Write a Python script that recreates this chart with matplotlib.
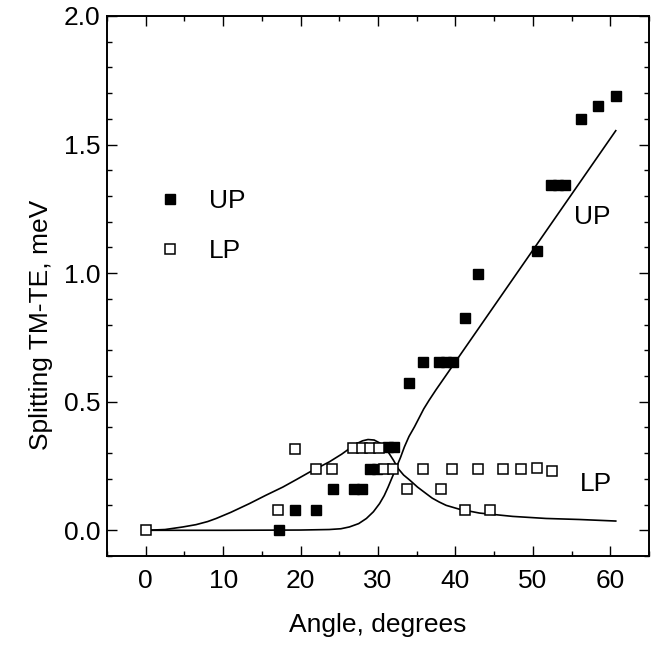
import matplotlib
matplotlib.use("Agg")
import matplotlib.pyplot as plt
from matplotlib.ticker import MultipleLocator

plt.rcParams["font.family"] = ["Liberation Sans Narrow", "Liberation Sans", "DejaVu Sans"]

# -------------------------
# Data
# -------------------------

# UP polariton (filled squares)
up_angle = [17.2, 19.3, 22.0, 24.2, 26.9, 27.9, 29.0, 29.9, 31.3, 32.1,
            34.0, 35.8, 37.9, 38.8, 39.7, 41.2, 42.9, 50.5,
            52.3, 53.2, 54.1, 56.2, 58.4, 60.7]
up_split = [0.0, 0.078, 0.078, 0.16, 0.16, 0.16, 0.24, 0.24, 0.324, 0.324,
            0.573, 0.655, 0.655, 0.655, 0.655, 0.826, 0.996, 1.087,
            1.342, 1.342, 1.342, 1.60, 1.651, 1.69]

# LP polariton (open squares)
lp_angle = [0.0, 17.1, 19.3, 22.0, 24.1, 26.8, 27.9, 29.0, 30.1, 30.8, 31.9,
            33.8, 35.8, 38.1, 39.5, 41.2, 42.9, 44.5, 46.1, 48.4, 50.5, 52.5]
lp_split = [0.0, 0.078, 0.315, 0.237, 0.24, 0.32, 0.32, 0.32, 0.32, 0.24, 0.24,
            0.16, 0.24, 0.16, 0.24, 0.08, 0.24, 0.08, 0.24, 0.24, 0.242, 0.23]

# calculated curves
up_curve_angle = [0, 10, 20, 23.7, 25.2, 26.3, 27.5, 28.5, 29.4, 30.2, 30.8,
                  31.3, 31.8, 32.3, 32.9, 33.4, 34.0, 34.7, 35.3, 35.9, 36.6,
                  37.5, 60.7]
up_curve_split = [0, 0, 0.001, 0.003, 0.006, 0.013, 0.026, 0.046, 0.072, 0.104, 0.135,
                  0.168, 0.204, 0.24, 0.283, 0.324, 0.365, 0.402, 0.437, 0.472, 0.506,
                  0.547, 1.554]

lp_curve_angle = [0, 2.5, 4.8, 6.5, 8.0, 9.1, 11.0, 13.4, 15.5, 17.7, 19.5,
                  21.2, 23.7, 25.3, 26.5, 27.3, 28.0, 28.7, 29.5, 30.2, 30.8,
                  31.3, 32.0, 32.6, 33.3, 34.1, 35.1, 36.2, 37.0, 37.9, 38.8,
                  40.5, 43.1, 47.4, 51.7, 56.0, 60.7]
lp_curve_split = [0, 0.003, 0.013, 0.022, 0.034, 0.046, 0.07, 0.104, 0.136, 0.168, 0.198,
                  0.227, 0.266, 0.296, 0.322, 0.338, 0.348, 0.353, 0.351, 0.34, 0.324,
                  0.305, 0.272, 0.24, 0.215, 0.195, 0.168, 0.143, 0.125, 0.11, 0.097,
                  0.082, 0.067, 0.054, 0.046, 0.042, 0.036]

# -------------------------
# Plot
# -------------------------

fs = 19

fig = plt.figure(figsize=(6.59, 6.5), dpi=100)
ax = fig.add_axes([0.1624, 0.1446, 0.8225, 0.8308])

ax.plot(up_curve_angle, up_curve_split, color="black", lw=1.2)
ax.plot(lp_curve_angle, lp_curve_split, color="black", lw=1.2)

ax.plot(up_angle, up_split, "s", color="black", ms=6.5, label="UP")
ax.plot(lp_angle, lp_split, "s", mfc="white", mec="black", mew=1.1, ms=6.5, label="LP")

ax.text(57.7, 1.22, "UP", fontsize=fs, ha="center", va="center")
ax.text(58.1, 0.18, "LP", fontsize=fs, ha="center", va="center")

ax.set_xlim(-5, 65)
ax.set_ylim(-0.1, 2.0)
ax.xaxis.set_major_locator(MultipleLocator(10))
ax.xaxis.set_minor_locator(MultipleLocator(5))
ax.yaxis.set_major_locator(MultipleLocator(0.5))
ax.yaxis.set_minor_locator(MultipleLocator(0.1))
ax.yaxis.set_major_formatter(plt.FormatStrFormatter("%.1f"))

ax.tick_params(which="both", direction="in", top=True, right=True, width=1.0)
ax.tick_params(which="major", length=7, labelsize=fs)
ax.tick_params(which="minor", length=3.5)
ax.tick_params(axis="x", pad=9)
ax.tick_params(axis="y", pad=5)
for s in ax.spines.values():
    s.set_linewidth(1.4)

ax.set_xlabel("Angle, degrees", fontsize=fs, labelpad=15)
ax.set_ylabel("Splitting TM-TE, meV", fontsize=fs)
ax.yaxis.set_label_coords(-0.1, 0.428)

ax.legend(loc="upper left", bbox_to_anchor=(0.091, 0.68), frameon=False,
          numpoints=1, fontsize=fs, handlelength=1.0, handletextpad=1.0,
          labelspacing=1.0, borderpad=0, borderaxespad=0)

fig.savefig("out.png", dpi=100)
